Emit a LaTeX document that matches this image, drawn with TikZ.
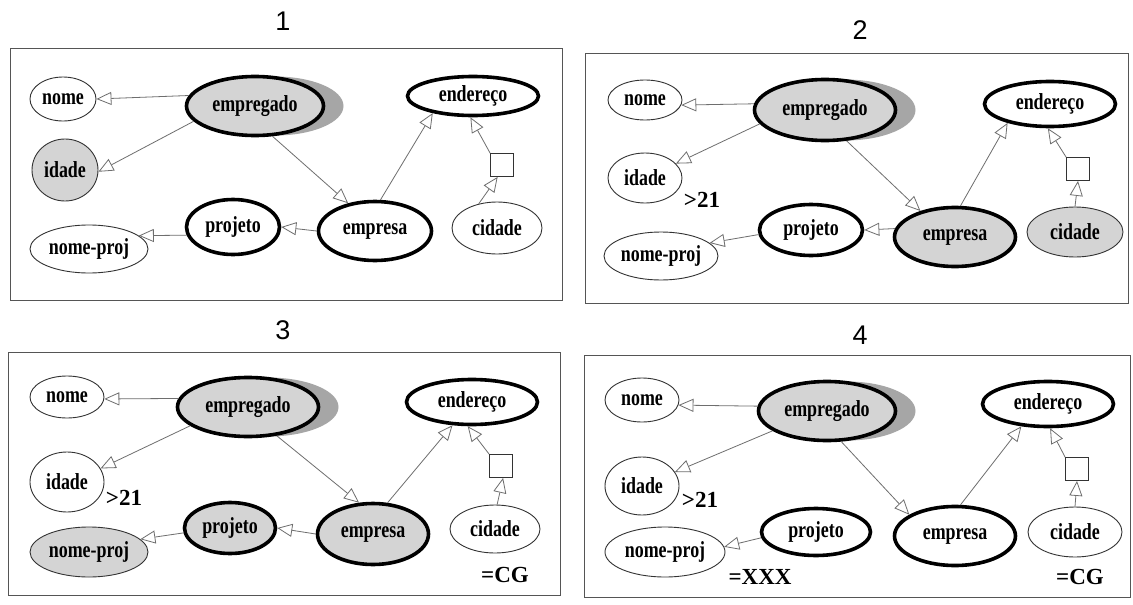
\documentclass[tikz,border=0pt]{standalone}
\usepackage{fontspec}
\setmainfont{Liberation Serif}
\newfontfamily\labelfamily{Liberation Serif}[FakeStretch=0.78]
\newfontfamily\titlefamily{Liberation Sans}
\usetikzlibrary{shapes.geometric,arrows.meta,shadows}

\definecolor{fillgray}{HTML}{D4D4D4}
\definecolor{shadowgray}{HTML}{A6A6A6}
\definecolor{linkgray}{HTML}{6E6E6E}
\definecolor{framegray}{HTML}{555555}

\tikzset{
  attr/.style={ellipse, draw=black!80, line width=0.9pt, inner sep=0pt,
    font=\labelfamily\bfseries\fontsize{23}{24}\selectfont},
  ent/.style={ellipse, draw=black, line width=3.6pt, inner sep=0pt,
    font=\labelfamily\bfseries\fontsize{23}{24}\selectfont},
  filled/.style={fill=fillgray},
  shadowed/.style={drop shadow={shadow xshift=20pt, shadow yshift=0pt,
    fill=shadowgray, opacity=1}},
  frame/.style={draw=framegray, line width=0.8pt},
  link/.style={draw=linkgray, line width=0.8pt,
    -{Triangle[length=15pt, width=13pt, fill=white, line width=0.8pt]}},
  sqbox/.style={rectangle, draw=black!80, line width=0.8pt,
    minimum size=23pt, inner sep=0pt},
  cond/.style={inner sep=0pt,
    font=\fontsize{23}{24}\selectfont\bfseries},
  paneltitle/.style={inner sep=0pt,
    font=\titlefamily\fontsize{27}{28}\selectfont},
}

\begin{document}
\begin{tikzpicture}[x=1pt, y=-1pt]
\useasboundingbox (0,0) rectangle (1133,605);
\fill[white] (0,0) rectangle (1133,605);

% ---------------- panel titles ----------------
\node[paneltitle] (t1) at (283,21) {1};
\node[paneltitle] (t2) at (860,30) {2};
\node[paneltitle] (t3) at (283,330) {3};
\node[paneltitle] (t4) at (860,335) {4};

% ---------------- frames ----------------
\draw[frame] (10,48) rectangle (562,300);
\draw[frame] (585,53) rectangle (1128,303);
\draw[frame] (8,352) rectangle (560,595);
\draw[frame] (584,355) rectangle (1130,597);

% ================= panel 1 =================
\node[ent, filled, shadowed, minimum width=137pt, minimum height=59pt] (a-emp) at (255,106) {empregado};
\node[attr, minimum width=66pt, minimum height=44pt] (a-nome) at (63,99) {nome};
\node[attr, filled, minimum width=66pt, minimum height=62pt] (a-idade) at (65,170) {idade};
\node[ent, minimum width=93pt, minimum height=55pt] (a-proj) at (233,227) {projeto};
\node[attr, minimum width=118pt, minimum height=48pt] (a-np) at (89,249) {nome-proj};
\node[ent, minimum width=113pt, minimum height=59pt] (a-empr) at (375,231) {empresa};
\node[ent, minimum width=131pt, minimum height=39pt] (a-end) at (473,96) {endereço};
\node[sqbox] (a-sq) at (502,165) {};
\node[attr, minimum width=90pt, minimum height=52pt] (a-cid) at (497,228) {cidade};

\draw[link] (a-emp.171) -- (a-nome.east);
\draw[link] (a-emp.194) -- (a-idade.-3);
\draw[link] (a-emp.-60) -- (a-empr.134);
\draw[link] (a-empr.80) -- (a-end.-157);
\draw[link] (a-empr.180) -- (a-proj.0);
\draw[link] (a-proj.190) -- (a-np.15);
\draw[link] (a-cid.127) -- (a-sq.-110);
\draw[link] (a-sq.north west) -- (a-end.-97);

% ================= panel 2 =================
\node[ent, filled, shadowed, minimum width=141pt, minimum height=61pt] (b-emp) at (825,110) {empregado};
\node[attr, minimum width=74pt, minimum height=40pt] (b-nome) at (645,100) {nome};
\node[attr, minimum width=74pt, minimum height=50pt] (b-idade) at (645,178) {idade};
\node[cond] (b-gt) at (702,200) {>21};
\node[ent, minimum width=103pt, minimum height=51pt] (b-proj) at (811,230) {projeto};
\node[attr, minimum width=114pt, minimum height=48pt] (b-np) at (661,256) {nome-proj};
\node[ent, filled, minimum width=121pt, minimum height=59pt] (b-empr) at (955,237) {empresa};
\node[ent, minimum width=131pt, minimum height=45pt] (b-end) at (1050,104) {endereço};
\node[sqbox] (b-sq) at (1078,169) {};
\node[attr, filled, minimum width=96pt, minimum height=50pt] (b-cid) at (1075,232) {cidade};

\draw[link] (b-emp.175) -- (b-nome.-8);
\draw[link] (b-emp.192) -- (b-idade.25);
\draw[link] (b-emp.-55) -- (b-empr.143);
\draw[link] (b-empr.80) -- (b-end.-156);
\draw[link] (b-empr.172) -- (b-proj.0);
\draw[link] (b-proj.185) -- (b-np.15);
\draw[link] (b-cid.north) -- (b-sq.south);
\draw[link] (b-sq.north west) -- (b-end.-95);

% ================= panel 3 =================
\node[ent, filled, shadowed, minimum width=141pt, minimum height=59pt] (c-emp) at (248,407) {empregado};
\node[attr, minimum width=74pt, minimum height=42pt] (c-nome) at (67,397) {nome};
\node[attr, minimum width=74pt, minimum height=60pt] (c-idade) at (67,482) {idade};
\node[cond] (c-gt) at (124,498) {>21};
\node[ent, filled, minimum width=91pt, minimum height=51pt] (c-proj) at (230,528) {projeto};
\node[attr, filled, minimum width=118pt, minimum height=50pt] (c-np) at (89,552) {nome-proj};
\node[ent, filled, minimum width=111pt, minimum height=61pt] (c-empr) at (373,534) {empresa};
\node[ent, minimum width=131pt, minimum height=45pt] (c-end) at (472,402) {endereço};
\node[sqbox] (c-sq) at (501,466) {};
\node[attr, minimum width=90pt, minimum height=48pt] (c-cid) at (495,529) {cidade};
\node[cond] (c-cg) at (505,575) {=CG};

\draw[link] (c-emp.173) -- (c-nome.-3);
\draw[link] (c-emp.198) -- (c-idade.22);
\draw[link] (c-emp.-45) -- (c-empr.114);
\draw[link] (c-empr.65) -- (c-end.-130);
\draw[link] (c-empr.180) -- (c-proj.0);
\draw[link] (c-proj.186) -- (c-np.14);
\draw[link] (c-cid.85) -- (c-sq.-80);
\draw[link] (c-sq.north west) -- (c-end.-100);

% ================= panel 4 =================
\node[ent, filled, shadowed, minimum width=137pt, minimum height=59pt] (d-emp) at (827,411) {empregado};
\node[attr, minimum width=74pt, minimum height=44pt] (d-nome) at (642,400) {nome};
\node[attr, minimum width=74pt, minimum height=58pt] (d-idade) at (642,486) {idade};
\node[cond] (d-gt) at (700,500) {>21};
\node[ent, minimum width=109pt, minimum height=47pt] (d-proj) at (816,532) {projeto};
\node[attr, minimum width=120pt, minimum height=50pt] (d-np) at (665,552) {nome-proj};
\node[cond] (d-xxx) at (760,577) {=XXX};
\node[ent, minimum width=121pt, minimum height=59pt] (d-empr) at (955,536) {empresa};
\node[ent, minimum width=131pt, minimum height=45pt] (d-end) at (1048,404) {endereço};
\node[sqbox] (d-sq) at (1077,469) {};
\node[attr, minimum width=94pt, minimum height=50pt] (d-cid) at (1075,532) {cidade};
\node[cond] (d-cg) at (1080,577) {=CG};

\draw[link] (d-emp.176) -- (d-nome.-8);
\draw[link] (d-emp.200) -- (d-idade.23);
\draw[link] (d-emp.-65) -- (d-empr.155);
\draw[link] (d-empr.80) -- (d-end.-140);
\draw[link] (d-proj.186) -- (d-np.5);
\draw[link] (d-cid.north) -- (d-sq.south);
\draw[link] (d-sq.north west) -- (d-end.-85);
\end{tikzpicture}
\end{document}
